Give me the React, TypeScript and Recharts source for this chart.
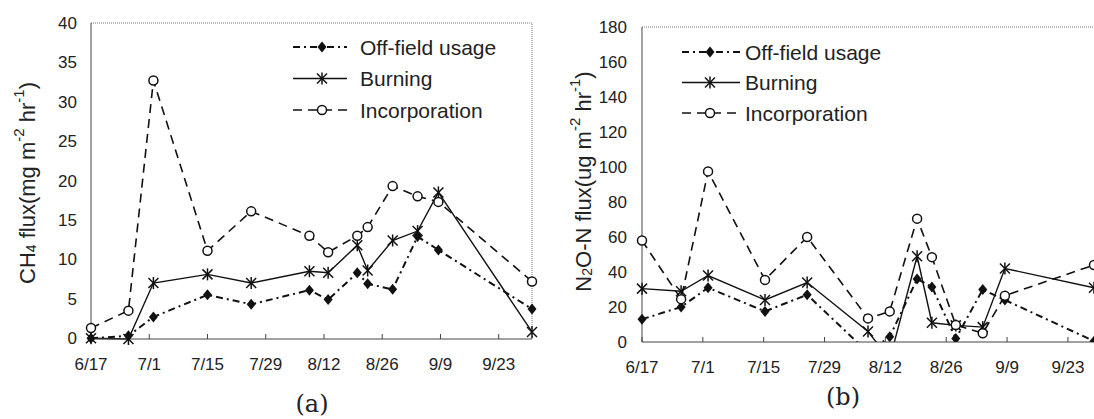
import React from 'react';
import { LineChart, Line, XAxis, YAxis, ReferenceLine, Legend } from 'recharts';

// ---------- data ----------
const tickDays = [0, 14, 28, 42, 56, 70, 84, 98];
const tickLabels = ['6/17', '7/1', '7/15', '7/29', '8/12', '8/26', '9/9', '9/23'];
const seriesNames = ['Off-field usage', 'Burning', 'Incorporation'];

// (a) CH4 flux, x = days after 6/17
const daysA = [0, 9, 15, 28, 38.5, 52.5, 57, 64, 66.5, 72.5, 78.5, 83.5, 106];
const ch4OffField = [0, 0.3, 2.7, 5.5, 4.3, 6.1, 4.9, 8.3, 6.9, 6.2, 12.9, 11.2, 3.7];
const ch4Burning = [0, -0.1, 7.0, 8.1, 7.0, 8.5, 8.3, 11.8, 8.6, 12.4, 13.6, 18.5, 0.8];
const ch4Incorporation = [1.3, 3.5, 32.7, 11.1, 16.1, 13.0, 10.9, 13.0, 14.1, 19.3, 18.0, 17.3, 7.2];
const yTicksA = [0, 5, 10, 15, 20, 25, 30, 35, 40];

// (b) N2O-N flux
const daysB = [0, 9, 15.2, 28.3, 38, 52, 57, 63.3, 66.7, 72.2, 78.4, 83.5, 104];
const n2oOffField = [13, 20, 31, 17.5, 27, -6, 3, 36, 31.5, 2, 30, 24, 0.5];
const n2oBurning = [30.5, 29, 38, 24, 34, 6, -10, 49, 11, 9.5, 8.5, 42, 31];
const n2oIncorporation = [58, 24.5, 97.5, 35.5, 60, 13.5, 17.5, 70.5, 48.5, 9.7, 5, 26.5, 44];
const yTicksB = [0, 20, 40, 60, 80, 100, 120, 140, 160, 180];

const dataA = daysA.map((d, i) => ({ day: d, off: ch4OffField[i], burn: ch4Burning[i], inc: ch4Incorporation[i] }));
const dataB = daysB.map((d, i) => ({ day: d, off: n2oOffField[i], burn: n2oBurning[i], inc: n2oIncorporation[i] }));

// ---------- markers ----------
const INK = '#111';
const Diamond = ({ cx, cy }: any) => (
  <path d={`M${cx},${cy - 5.5}L${cx + 4.5},${cy}L${cx},${cy + 5.5}L${cx - 4.5},${cy}Z`} fill={INK} />
);
const Star = ({ cx, cy }: any) => (
  <g stroke={INK} strokeWidth={1.5}>
    <line x1={cx - 5} y1={cy - 5} x2={cx + 5} y2={cy + 5} />
    <line x1={cx - 5} y1={cy + 5} x2={cx + 5} y2={cy - 5} />
    <line x1={cx} y1={cy - 6} x2={cx} y2={cy + 6} />
  </g>
);
const Ring = ({ cx, cy }: any) => <circle cx={cx} cy={cy} r={4.5} fill="#fff" stroke={INK} strokeWidth={1.5} />;

const mk = (Comp: any) => (p: any) =>
  p.cx == null || p.cy == null ? <g key={`n${p.index}`} /> : <Comp key={`d${p.index}`} cx={p.cx} cy={p.cy} />;

const styles = [
  { dash: '7 4 2 4', width: 2, Comp: Diamond },
  { dash: undefined, width: 1.4, Comp: Star },
  { dash: '9 6', width: 1.6, Comp: Ring },
];

const LegendBox = ({ lineLen, markerX, textX, spacing }: any) => (
  <svg width={300} height={110} style={{ overflow: 'visible' }}>
    {seriesNames.map((name, i) => {
      const y = 14 + i * spacing;
      const s = styles[i];
      const C = s.Comp;
      return (
        <g key={name}>
          <line x1={3} x2={3 + lineLen} y1={y} y2={y} stroke={INK} strokeWidth={s.width} strokeDasharray={s.dash} />
          <C cx={3 + markerX} cy={y} />
          <text x={textX} y={y} dominantBaseline="central" fontSize={21} fill="#222">
            {name}
          </text>
        </g>
      );
    })}
  </svg>
);

const TitleA = ({ viewBox }: any) => {
  const cx = 27;
  const cy = viewBox.y + viewBox.height / 2 + 2;
  return (
    <text x={cx} y={cy} transform={`rotate(-90 ${cx} ${cy})`} textAnchor="middle" dominantBaseline="central" fontSize={22} fill="#222">
      CH<tspan fontSize={14} dy={4}>4</tspan>
      <tspan dy={-4}> flux(mg m</tspan>
      <tspan fontSize={15} dy={-9}>-2</tspan>
      <tspan dy={9}> hr</tspan>
      <tspan fontSize={15} dy={-9}>-1</tspan>
      <tspan dy={9}>)</tspan>
    </text>
  );
};

const TitleB = ({ viewBox }: any) => {
  const cx = 38;
  const cy = viewBox.y + viewBox.height / 2 - 3;
  return (
    <text x={cx} y={cy} transform={`rotate(-90 ${cx} ${cy})`} textAnchor="middle" dominantBaseline="central" fontSize={22} fill="#222">
      N<tspan fontSize={14} dy={4}>2</tspan>
      <tspan dy={-4}>O-N flux(ug m</tspan>
      <tspan fontSize={15} dy={-9}>-2</tspan>
      <tspan dy={9}> hr</tspan>
      <tspan fontSize={15} dy={-9}>-1</tspan>
      <tspan dy={9}>)</tspan>
    </text>
  );
};

const fmtX = (v: number) => tickLabels[tickDays.indexOf(v)] ?? '';
const tickStyle = { fontSize: 17, fill: '#222' };

export default function App() {
  const lines = () =>
    (['off', 'burn', 'inc'] as const).map((k, i) => (
      <Line
        key={k}
        type="linear"
        dataKey={k}
        name={seriesNames[i]}
        stroke={INK}
        strokeWidth={styles[i].width}
        strokeDasharray={styles[i].dash}
        dot={mk(styles[i].Comp)}
        activeDot={false}
        isAnimationActive={false}
      />
    ));

  return (
    <div
      style={{
        position: 'absolute',
        left: 0,
        top: 0,
        width: 1094,
        height: 419,
        overflow: 'hidden',
        background: '#fff',
        fontFamily: '"Liberation Sans", Arial, sans-serif',
      }}
    >
      <div style={{ position: 'absolute', left: 0, top: 0 }}>
        <LineChart width={545} height={419} data={dataA} margin={{ top: 23, right: 13, bottom: 0, left: 0 }}>
          <XAxis
            dataKey="day"
            type="number"
            domain={[0, 106]}
            ticks={tickDays}
            interval={0}
            tickFormatter={fmtX}
            height={80}
            tickSize={-5}
            tickMargin={24}
            tick={tickStyle}
            stroke="#444"
          />
          <YAxis
            type="number"
            domain={[0, 40]}
            ticks={yTicksA}
            interval={0}
            width={91}
            tickLine={false}
            tickSize={0}
            tickMargin={14}
            tick={tickStyle}
            stroke="#444"
            label={{ content: (p: any) => <TitleA {...p} /> }}
          />
          <ReferenceLine y={40} stroke="#777" strokeDasharray="1 1" />
          <ReferenceLine x={106} stroke="#777" strokeDasharray="1 1" />
          <Legend
            layout="vertical"
            align="center"
            verticalAlign="middle"
            wrapperStyle={{ left: 290, top: 33, width: 260, height: 100 }}
            content={() => <LegendBox lineLen={54} markerX={29} textX={70} spacing={31.5} />}
          />
          {lines()}
        </LineChart>
      </div>
      <div style={{ position: 'absolute', left: 545, top: 0 }}>
        <LineChart width={549} height={419} data={dataB} margin={{ top: 27, right: 0, bottom: 0, left: 0 }}>
          <XAxis
            dataKey="day"
            type="number"
            domain={[0, 104]}
            ticks={tickDays}
            interval={0}
            tickFormatter={fmtX}
            height={77}
            tickSize={-5}
            tickMargin={24}
            tick={tickStyle}
            stroke="#444"
          />
          <YAxis
            type="number"
            domain={[0, 180]}
            ticks={yTicksB}
            interval={0}
            width={97}
            allowDataOverflow
            tickLine={false}
            tickSize={0}
            tickMargin={15}
            tick={tickStyle}
            stroke="#444"
            label={{ content: (p: any) => <TitleB {...p} /> }}
          />
          <ReferenceLine y={180} stroke="#777" strokeDasharray="1 1" />
          <Legend
            layout="vertical"
            align="center"
            verticalAlign="middle"
            wrapperStyle={{ left: 134, top: 38, width: 260, height: 100 }}
            content={() => <LegendBox lineLen={58} markerX={28} textX={66} spacing={30.5} />}
          />
          {lines()}
        </LineChart>
      </div>
      <div
        style={{
          position: 'absolute',
          left: 262,
          top: 389,
          width: 100,
          textAlign: 'center',
          lineHeight: '30px',
          fontSize: 24,
          fontFamily: '"DejaVu Serif", serif',
          color: '#222',
        }}
      >
        (a)
      </div>
      <div
        style={{
          position: 'absolute',
          left: 793,
          top: 382,
          width: 100,
          textAlign: 'center',
          lineHeight: '30px',
          fontSize: 24,
          fontFamily: '"DejaVu Serif", serif',
          color: '#222',
        }}
      >
        (b)
      </div>
    </div>
  );
}
